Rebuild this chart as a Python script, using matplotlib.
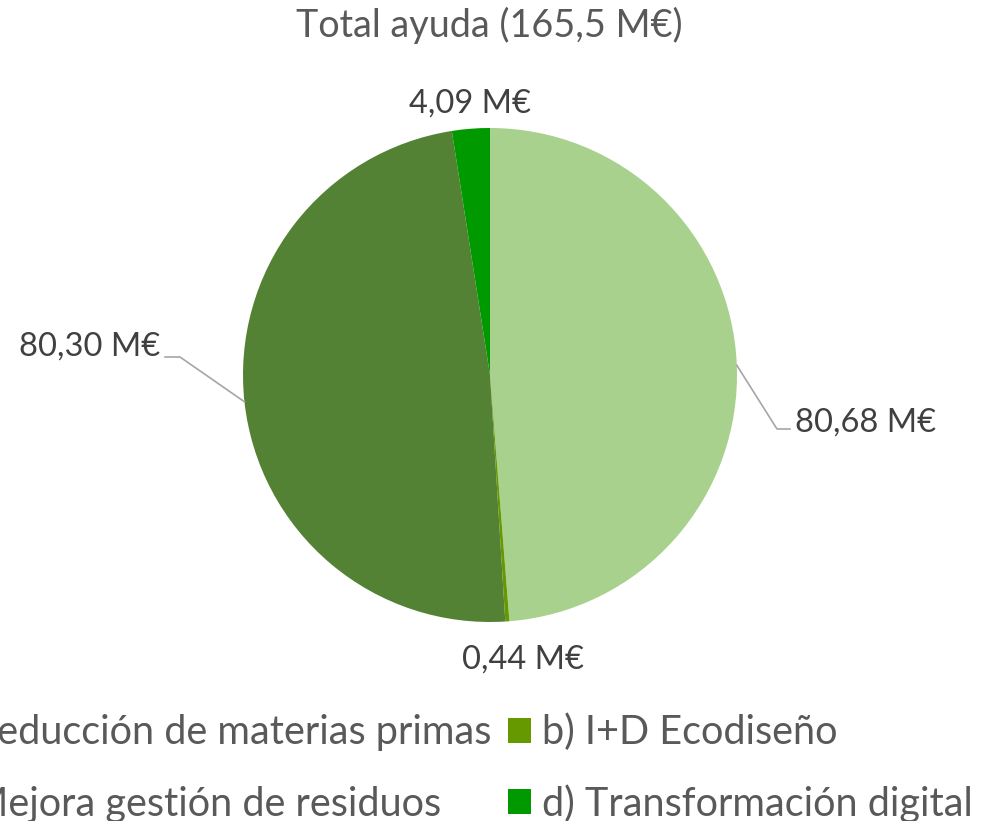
import numpy as np
import matplotlib
matplotlib.use('Agg')
import matplotlib.pyplot as plt
from matplotlib.patches import Patch

plt.rcParams['font.family'] = ['Lato', 'DejaVu Sans']

# datos (M€)
categorias = ['a) Reducción de materias primas', 'b) I+D Ecodiseño',
              'c) Mejora gestión de residuos', 'd) Transformación digital']
valores = [80.68, 0.44, 80.30, 4.09]
colores = ['#A9D18E', '#669900', '#548235', '#009900']
etiquetas = ['80,68 M€', '0,44 M€', '80,30 M€', '4,09 M€']
titulo = 'Total ayuda (165,5 M€)'

W, H = 981, 821
cx, cy, R = 490, 375, 247   # centro y radio de la tarta en pixeles


def px(x, y):
    # pixeles de la imagen -> coordenadas de datos
    return (x - cx) / R, (cy - y) / R


fig = plt.figure(figsize=(W / 100, H / 100), dpi=100)
ax = fig.add_axes([0, 0, 1, 1])
wedges, _ = ax.pie(valores, colors=colores, startangle=90, counterclock=False,
                   radius=1, wedgeprops=dict(linewidth=0))
ax.set_xlim(-cx / R, (W - cx) / R)
ax.set_ylim((cy - H) / R, cy / R)
ax.set_aspect('auto')
ax.axis('off')

# titulo
tx, ty = px(489, 37)
ax.text(tx, ty, titulo, ha='center', va='baseline', fontsize=27.2, color='#595959')

# etiquetas de datos
pos = [(795, 432, 'left'), (523, 669, 'center'), (160, 356, 'right'), (470, 113, 'center')]
for lab, (x, y, ha) in zip(etiquetas, pos):
    lx, ly = px(x, y)
    ax.text(lx, ly, lab, ha=ha, va='baseline', fontsize=23.5, color='#404040')

# lineas guia para las dos porciones grandes
guias = {0: [(777, 429), (790, 429)], 2: [(180, 357), (165, 357)]}
for i, pts in guias.items():
    w = wedges[i]
    ang = np.deg2rad((w.theta1 + w.theta2) / 2)
    xs = [np.cos(ang)] + [px(*p)[0] for p in pts]
    ys = [np.sin(ang)] + [px(*p)[1] for p in pts]
    ax.plot(xs, ys, color='#A6A6A6', lw=1.2)

# leyenda (cortada por la izquierda, como en el original)
orden = [0, 2, 1, 3]
handles = [Patch(facecolor=colores[i], edgecolor='none') for i in orden]
fig.legend(handles, [categorias[i] for i in orden], ncol=2, frameon=False,
           loc='upper right', bbox_to_anchor=(993 / W, 1 - 693 / H),
           fontsize=28.5, labelcolor='#595959', borderpad=0,
           handlelength=0.6, handleheight=0.58, handletextpad=0.28,
           columnspacing=0.4, labelspacing=0.82)

plt.savefig('out.png', dpi=100)
